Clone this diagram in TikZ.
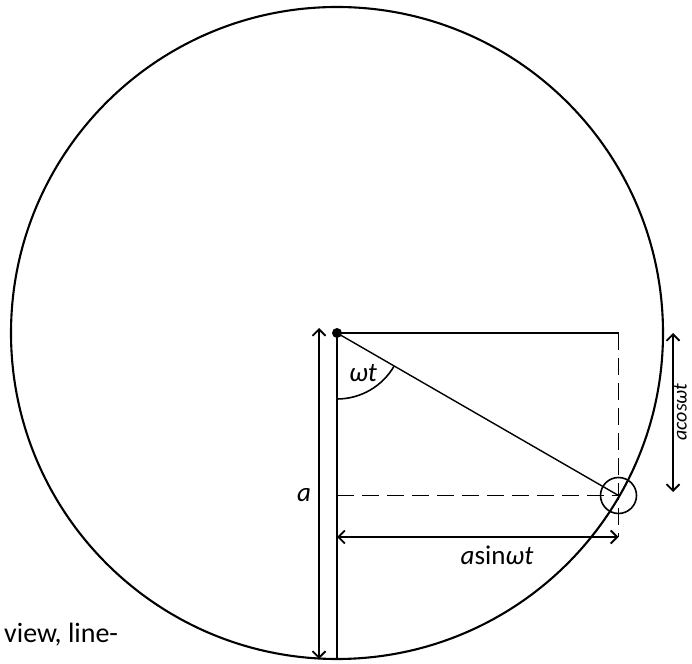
\documentclass[tikz,border=0pt]{standalone}
\usepackage{fontspec}
\setmainfont{Carlito}
\usetikzlibrary{arrows.meta}
\begin{document}
\begin{tikzpicture}[x=1pt,y=1pt,
  ln/.style={line width=1.6pt},
  dsh/.style={line width=1.6pt, dash pattern=on 17pt off 8pt},
  dimarrow/.style={line width=1.5pt, {Straight Barb[length=6.5pt,width=13pt,line width=1.8pt]}-{Straight Barb[length=6.5pt,width=13pt,line width=1.8pt]}},
  lbl/.style={font=\fontsize{27}{32}\selectfont, inner sep=0pt}]
\useasboundingbox (0,0) rectangle (692,663);
% centre, bob and construction points
\coordinate (O) at (337,330);
\coordinate (B) at (618.5,167.5);
\coordinate (TR) at (618.5,330);
\coordinate (BR) at (618.5,126);
\coordinate (BL) at (337,126);
\coordinate (HL) at (337,167.5);
\coordinate (Bot) at (337,4);
\coordinate (AT) at (319,335);
\coordinate (AB) at (319,4);
\coordinate (CT) at (673,330);
\coordinate (CB) at (673,171);
\coordinate (ArcS) at (337,264);
% big circle
\draw[line width=2.1pt] (O) circle (326);
% thread and vertical
\draw[ln] (O) -- (Bot);
\draw[line width=1.4pt] (O) -- (B);
\draw[ln] (O) -- (TR);
\draw[dsh] (TR) -- (BR);
\draw[dsh] (HL) -- (B);
% bob
\draw[ln] (B) circle (18);
\fill (O) circle (5);
% angle arc
\draw[ln] (ArcS) arc[start angle=-90,end angle=-30,radius=66];
% dimension arrows
\draw[dimarrow] (AT) -- (AB);
\draw[dimarrow] (BL) -- (BR);
\draw[dimarrow] (CT) -- (CB);
% labels
\node[lbl] (la) at (304,168) {\itshape a};
\node[lbl] (lwt) at (363,290) {\itshape ωt};
\node[lbl] (lsin) at (497,108) {\itshape a\upshape sin\itshape ωt};
\node[lbl, rotate=90, anchor=base, font=\fontsize{20}{24}\selectfont] (lcos) at (686.5,251) {\itshape acosωt};
\node[lbl, anchor=base west, font=\fontsize{28}{32}\selectfont] (cap) at (4,21) {view, line-};
\end{tikzpicture}
\end{document}
